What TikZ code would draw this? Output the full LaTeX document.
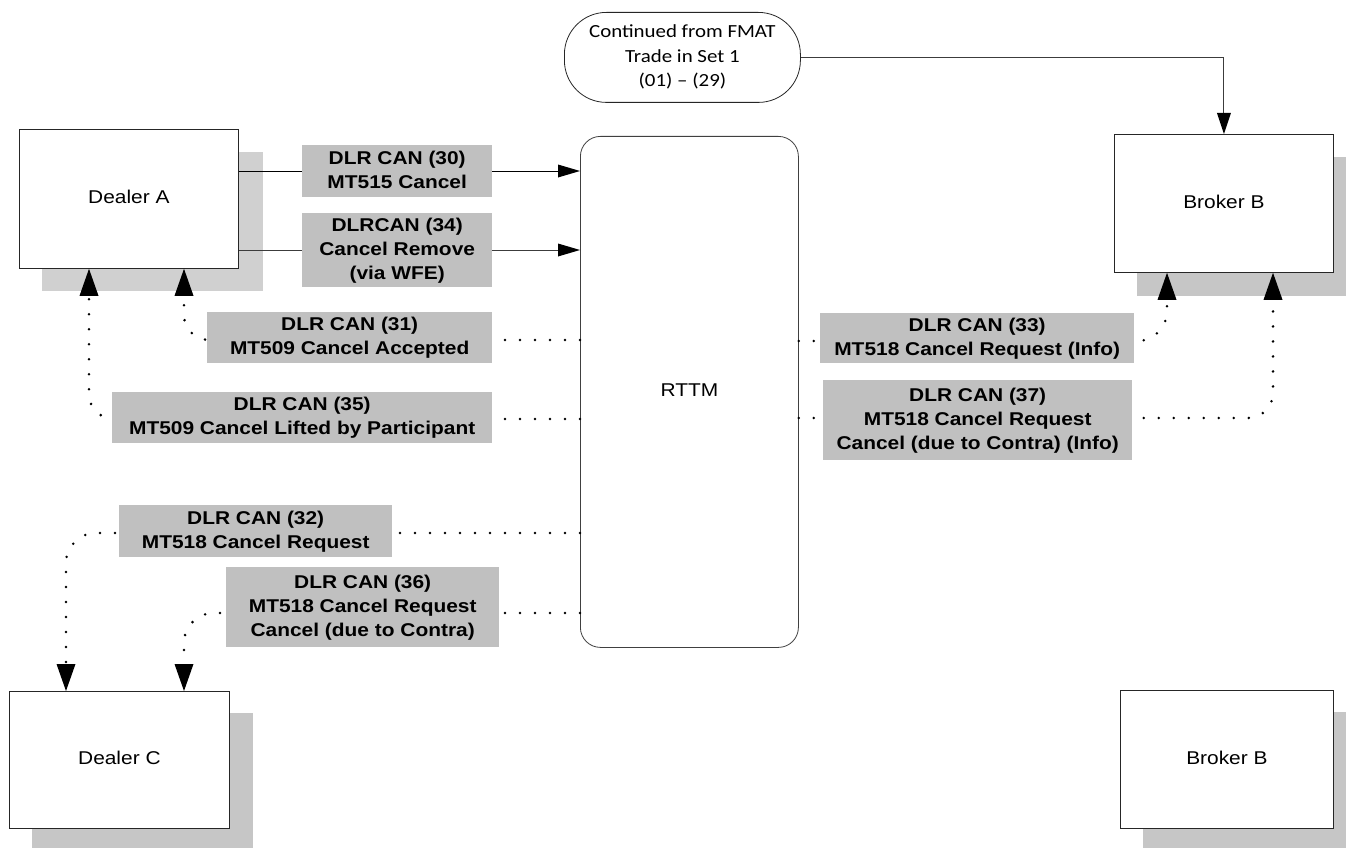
\documentclass[tikz,border=0pt]{standalone}
\usepackage{fontspec}
\setmainfont{Liberation Sans}
\newfontfamily\calibrifont{Carlito}
\usepackage{graphicx}
\usetikzlibrary{arrows.meta}
\definecolor{lblgray}{RGB}{192,192,192}
\definecolor{shadA}{RGB}{208,208,208}
\definecolor{shadB}{RGB}{198,198,198}
\definecolor{linegray}{RGB}{60,60,60}
\newcommand{\sx}[1]{\scalebox{1.13}[1]{\begin{tabular}{@{}c@{}}#1\end{tabular}}}
\begin{document}
\begin{tikzpicture}[x=1pt,y=-1pt,
  entity/.style={draw=black!85, line width=0.8pt, fill=white, inner sep=0pt, anchor=north west,
    font=\fontsize{18.5}{24}\selectfont},
  msg/.style={fill=lblgray, inner sep=0pt, anchor=north west,
    font=\bfseries\fontsize{18.5}{24}\selectfont},
  conn/.style={draw=linegray, line width=0.9pt},
  dotconn/.style={draw=black, line width=2.8pt, dash pattern=on 0pt off 15pt, line cap=round, rounded corners=25pt},
  hhead/.style={-{Triangle[length=22pt,width=13pt,color=black,line width=0pt]}},
  vhead/.style={-{Triangle[length=27pt,width=19pt,color=black,line width=0pt]}},
]
\useasboundingbox (0,0) rectangle (1346,848);
\fill[white] (0,0) rectangle (1346,848);

% shadows
\fill[shadA] (42,152) rectangle (263,291);
\fill[shadB] (1137,157) rectangle (1356,296);
\fill[shadB] (1143,712) rectangle (1356,851);
\fill[shadB] (32,713) rectangle (253,851);

% entities
\node[entity, minimum width=219pt, minimum height=139pt] (dA) at (19,129) {\sx{Dealer A}};
\node[entity, minimum width=219pt, minimum height=138pt] (bB) at (1114,134) {\sx{Broker B}};
\node[entity, minimum width=213pt, minimum height=138pt] (bB2) at (1120,690) {\sx{Broker B}};
\node[entity, minimum width=220pt, minimum height=137pt] (dC) at (9,691) {\sx{Dealer C}};
\node[entity, draw=black!75, rounded corners=20pt, minimum width=218pt, minimum height=511pt] (rttm) at (580,136) {\sx{RTTM}};
\node[entity, rounded corners=42pt, minimum width=236pt, minimum height=90pt,
  font=\calibrifont\fontsize{18.5}{24.5}\selectfont] (term) at (564,12)
  {\sx{Continued from FMAT\\Trade in Set 1\\(01) – (29)}};

% helper coordinates
\coordinate (y171) at (0,171);
\coordinate (y250) at (0,250);
\coordinate (c31) at (184,340);
\coordinate (c35) at (89,419);
\coordinate (c32) at (66,533);
\coordinate (c36) at (184,613);
\coordinate (c33) at (1167,341);
\coordinate (c37) at (1273,418);

% solid connectors
\draw[conn,draw=black,hhead] (dA.east |- y171) -- (rttm.west |- y171);
\draw[conn,hhead] (dA.east |- y250) -- (rttm.west |- y250);
\draw[conn,-{Triangle[length=21pt,width=14pt,color=black,line width=0pt]}] (term.east) -| (bB.north);

% dotted connectors
\draw[dotconn,vhead] (c31 -| rttm.west) -- (c31) -- (c31 |- dA.south);
\draw[dotconn,vhead] (c35 -| rttm.west) -- (c35) -- (c35 |- dA.south);
\draw[dotconn,vhead,rounded corners=30pt] (c32 -| rttm.west) -- (c32) -- (c32 |- dC.north);
\draw[dotconn,vhead,rounded corners=30pt] (c36 -| rttm.west) -- (c36) -- (c36 |- dC.north);
\draw[dotconn,vhead,rounded corners=30pt] (c33 -| rttm.east) -- (c33) -- (c33 |- bB.south);
\draw[dotconn,vhead] (c37 -| rttm.east) -- (c37) -- (c37 |- bB.south);

% message labels
\node[msg, minimum width=190pt, minimum height=52pt] (l30) at (302,145) {\sx{DLR CAN (30)\\MT515 Cancel}};
\node[msg, minimum width=190pt, minimum height=74pt] (l34) at (302,213) {\sx{DLRCAN (34)\\Cancel Remove\\(via WFE)}};
\node[msg, minimum width=285pt, minimum height=51pt] (l31) at (207,312) {\sx{DLR CAN (31)\\MT509 Cancel Accepted}};
\node[msg, minimum width=380pt, minimum height=51pt] (l35) at (112,392) {\sx{DLR CAN (35)\\MT509 Cancel Lifted by Participant}};
\node[msg, minimum width=314pt, minimum height=50pt] (l33) at (820,313) {\sx{DLR CAN (33)\\MT518 Cancel Request (Info)}};
\node[msg, minimum width=309pt, minimum height=80pt] (l37) at (823,380) {\sx{DLR CAN (37)\\MT518 Cancel Request\\Cancel (due to Contra) (Info)}};
\node[msg, minimum width=273pt, minimum height=52pt] (l32) at (119,505) {\sx{DLR CAN (32)\\MT518 Cancel Request}};
\node[msg, minimum width=273pt, minimum height=80pt] (l36) at (226,567) {\sx{DLR CAN (36)\\MT518 Cancel Request\\Cancel (due to Contra)}};
\end{tikzpicture}
\end{document}
